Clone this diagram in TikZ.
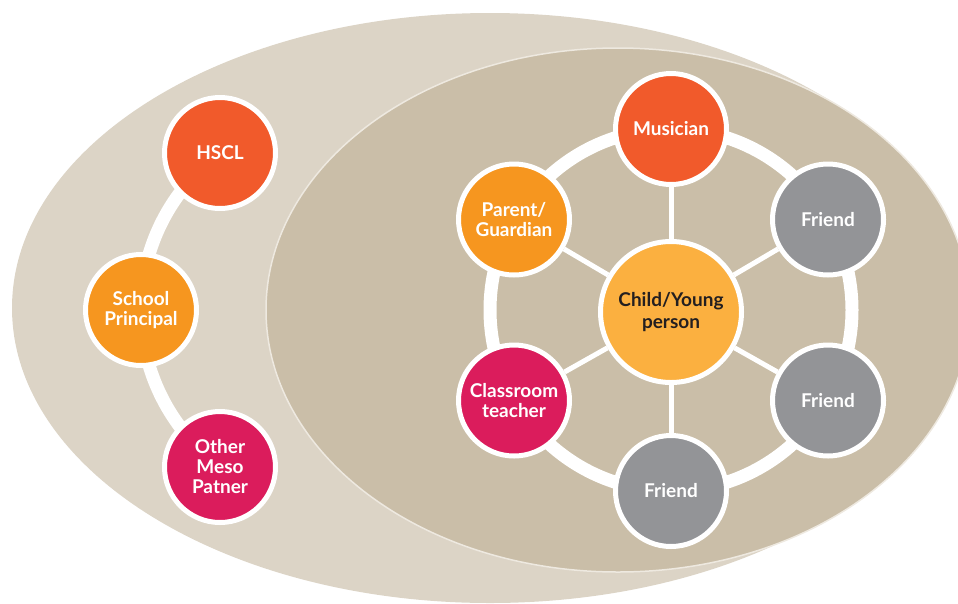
\documentclass[tikz,border=0pt]{standalone}
\usepackage{fontspec}
\setmainfont{Lato}
\usepackage{tikz}
\definecolor{outerbeige}{RGB}{220,212,198}
\definecolor{innerbeige}{RGB}{202,190,168}
\definecolor{rimline}{RGB}{238,233,224}
\definecolor{redorange}{RGB}{241,90,43}
\definecolor{amber}{RGB}{246,150,31}
\definecolor{pinkred}{RGB}{219,28,92}
\definecolor{friendgrey}{RGB}{147,148,151}
\definecolor{hubyellow}{RGB}{251,176,64}
\definecolor{darktext}{RGB}{35,31,32}
\pgfdeclarelayer{fields}
\pgfdeclarelayer{links}
\pgfsetlayers{fields,links,main}

\begin{document}
\begin{tikzpicture}[x=1pt, y=-1pt,
  person/.style={circle, draw=white, line width=5pt, minimum size=111pt, inner sep=0pt,
    align=center, text=white, font=\bfseries\fontsize{19}{20}\selectfont},
  hub/.style={person, minimum size=141pt, fill=hubyellow, text=darktext,
    font=\bfseries\fontsize{19}{22}\selectfont},
  ring/.style={white, line width=13pt},
  spoke/.style={white, line width=5pt}]

\useasboundingbox (0,0) rectangle (958,603);

% meso chain
\node[person, fill=redorange] (hscl) at (220,153) {HSCL};
\node[person, fill=amber] (principal) at (141,310) {School\\Principal};
\node[person, fill=pinkred] (meso) at (220,467) {Other\\Meso\\Patner};

% micro ring
\node[hub] (child) at (671,312) {Child/Young\\person};
\node[person, fill=redorange] (musician) at (671,129) {Musician};
\node[person, fill=friendgrey] (friendne) at (828,219.5) {Friend};
\node[person, fill=friendgrey] (friendse) at (828,400.5) {Friend};
\node[person, fill=friendgrey] (friends) at (671,491) {Friend};
\node[person, fill=pinkred] (teacher) at (514,400.5) {Classroom\\teacher};
\node[person, fill=amber] (parent) at (514,219.5) {Parent/\\Guardian};

\begin{pgfonlayer}{fields}
\fill[outerbeige] (490,308) ellipse[x radius=478pt, y radius=295pt];
\filldraw[fill=innerbeige, draw=rimline, line width=1.5pt] (618,310) ellipse[x radius=352pt, y radius=262pt];
\end{pgfonlayer}

\begin{pgfonlayer}{links}
\draw[ring] (hscl.center) arc[start angle=126.5, end angle=233.5, radius=195pt];
\draw[ring] (musician.center) arc[start angle=90, end angle=450, radius=181pt];
\foreach \n in {musician, friendne, friendse, friends, teacher, parent}
  \draw[spoke] (child) -- (\n);
\end{pgfonlayer}

\end{tikzpicture}
\end{document}
